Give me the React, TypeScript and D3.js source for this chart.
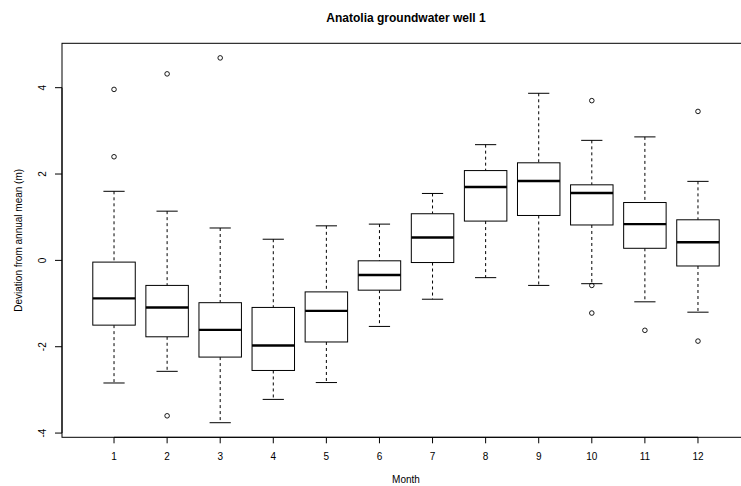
import React, { useRef, useEffect } from 'react'
import * as d3 from 'd3'

// box statistics, one entry per month
const months = ['1', '2', '3', '4', '5', '6', '7', '8', '9', '10', '11', '12']
const whiskerLow = [-2.84, -2.57, -3.76, -3.22, -2.83, -1.53, -0.90, -0.40, -0.58, -0.54, -0.96, -1.20]
const q1 = [-1.50, -1.77, -2.24, -2.55, -1.89, -0.69, -0.05, 0.91, 1.04, 0.82, 0.28, -0.13]
const medians = [-0.88, -1.09, -1.61, -1.97, -1.17, -0.34, 0.53, 1.70, 1.84, 1.56, 0.84, 0.42]
const q3 = [-0.04, -0.58, -0.98, -1.09, -0.73, -0.01, 1.08, 2.08, 2.26, 1.75, 1.34, 0.94]
const whiskerHigh = [1.60, 1.14, 0.75, 0.49, 0.80, 0.84, 1.55, 2.68, 3.87, 2.78, 2.86, 1.83]
const outliers = [
  [3.96, 2.40],
  [4.32, -3.60],
  [4.69],
  [],
  [],
  [],
  [],
  [],
  [],
  [3.70, -0.58, -1.22],
  [-1.62],
  [3.45, -1.87]
]
const yTicks = [-4, -2, 0, 2, 4]

function BoxChart() {
  const ref = useRef(null)

  useEffect(() => {
    const width = 741
    const height = 486
    const left = 62
    const right = 750 // plot frame runs past the right edge, as in the reference
    const top = 43.3
    const bottom = 437.3

    const svg = d3.select(ref.current)
    svg.selectAll('*').remove()

    // R style: 4% padding around the data range
    const all = [...whiskerLow, ...whiskerHigh, ...outliers.flat()]
    const lo = d3.min(all)
    const hi = d3.max(all)
    const pad = (hi - lo) * 0.04
    const y = d3.scaleLinear().domain([lo - pad, hi + pad]).range([bottom, top])

    const n = months.length
    const xPad = (n) * 0.04
    const x = d3.scaleLinear().domain([0.5 - xPad, n + 0.5 + xPad]).range([left, right])
    const unit = x(2) - x(1)
    const halfBox = unit * 0.4
    const halfCap = halfBox / 2

    const font = 'Liberation Sans, Arial, Helvetica, sans-serif'

    // title
    svg.append('text')
      .attr('x', (left + right) / 2)
      .attr('y', 22)
      .attr('text-anchor', 'middle')
      .attr('font-family', font)
      .attr('font-weight', 'bold')
      .attr('font-size', 12)
      .text('Anatolia groundwater well 1')

    const g = svg.append('g')

    months.forEach((m, i) => {
      const cx = x(i + 1)
      // whiskers
      g.append('line')
        .attr('x1', cx).attr('x2', cx)
        .attr('y1', y(whiskerHigh[i])).attr('y2', y(q3[i]))
        .attr('stroke', '#000').attr('stroke-width', 1)
        .attr('stroke-dasharray', '3,3')
      g.append('line')
        .attr('x1', cx).attr('x2', cx)
        .attr('y1', y(q1[i])).attr('y2', y(whiskerLow[i]))
        .attr('stroke', '#000').attr('stroke-width', 1)
        .attr('stroke-dasharray', '3,3')
      // caps
      ;[whiskerHigh[i], whiskerLow[i]].forEach(v => {
        g.append('line')
          .attr('x1', cx - halfCap).attr('x2', cx + halfCap)
          .attr('y1', y(v)).attr('y2', y(v))
          .attr('stroke', '#000').attr('stroke-width', 1)
      })
      // box
      g.append('rect')
        .attr('x', cx - halfBox)
        .attr('y', y(q3[i]))
        .attr('width', halfBox * 2)
        .attr('height', y(q1[i]) - y(q3[i]))
        .attr('fill', '#fff')
        .attr('stroke', '#000')
        .attr('stroke-width', 1)
      // median
      g.append('line')
        .attr('x1', cx - halfBox).attr('x2', cx + halfBox)
        .attr('y1', y(medians[i])).attr('y2', y(medians[i]))
        .attr('stroke', '#000').attr('stroke-width', 2.4)
      // outliers
      outliers[i].forEach(v => {
        g.append('circle')
          .attr('cx', cx).attr('cy', y(v))
          .attr('r', 2.3)
          .attr('fill', 'none')
          .attr('stroke', '#000')
          .attr('stroke-width', 0.9)
      })
    })

    // frame
    svg.append('rect')
      .attr('x', left).attr('y', top)
      .attr('width', right - left).attr('height', bottom - top)
      .attr('fill', 'none').attr('stroke', '#000').attr('stroke-width', 1)

    // x axis
    const xa = svg.append('g')
    xa.append('line')
      .attr('x1', x(1)).attr('x2', x(n))
      .attr('y1', bottom).attr('y2', bottom)
      .attr('stroke', '#000')
    months.forEach((m, i) => {
      const cx = x(i + 1)
      xa.append('line')
        .attr('x1', cx).attr('x2', cx)
        .attr('y1', bottom).attr('y2', bottom + 6)
        .attr('stroke', '#000')
      xa.append('text')
        .attr('x', cx).attr('y', 460)
        .attr('text-anchor', 'middle')
        .attr('font-family', font).attr('font-size', 10)
        .text(m)
    })
    svg.append('text')
      .attr('x', (left + right) / 2).attr('y', 483)
      .attr('text-anchor', 'middle')
      .attr('font-family', font).attr('font-size', 10)
      .text('Month')

    // y axis
    const ya = svg.append('g')
    ya.append('line')
      .attr('x1', left).attr('x2', left)
      .attr('y1', y(yTicks[0])).attr('y2', y(yTicks[yTicks.length - 1]))
      .attr('stroke', '#000')
    yTicks.forEach(t => {
      ya.append('line')
        .attr('x1', left - 7).attr('x2', left)
        .attr('y1', y(t)).attr('y2', y(t))
        .attr('stroke', '#000')
      ya.append('text')
        .attr('transform', `translate(46,${y(t)}) rotate(-90)`)
        .attr('text-anchor', 'middle')
        .attr('font-family', font).attr('font-size', 10)
        .text(t)
    })
    svg.append('text')
      .attr('transform', `translate(21.5,${(top + bottom) / 2}) rotate(-90)`)
      .attr('text-anchor', 'middle')
      .attr('font-family', font).attr('font-size', 10)
      .text('Deviation from annual mean (m)')

    svg.attr('width', width).attr('height', height)
  }, [])

  return <svg ref={ref} width={741} height={486} style={{ position: 'absolute', left: 0, top: 0, background: '#fff' }} />
}

export default function App() {
  return <BoxChart />
}
